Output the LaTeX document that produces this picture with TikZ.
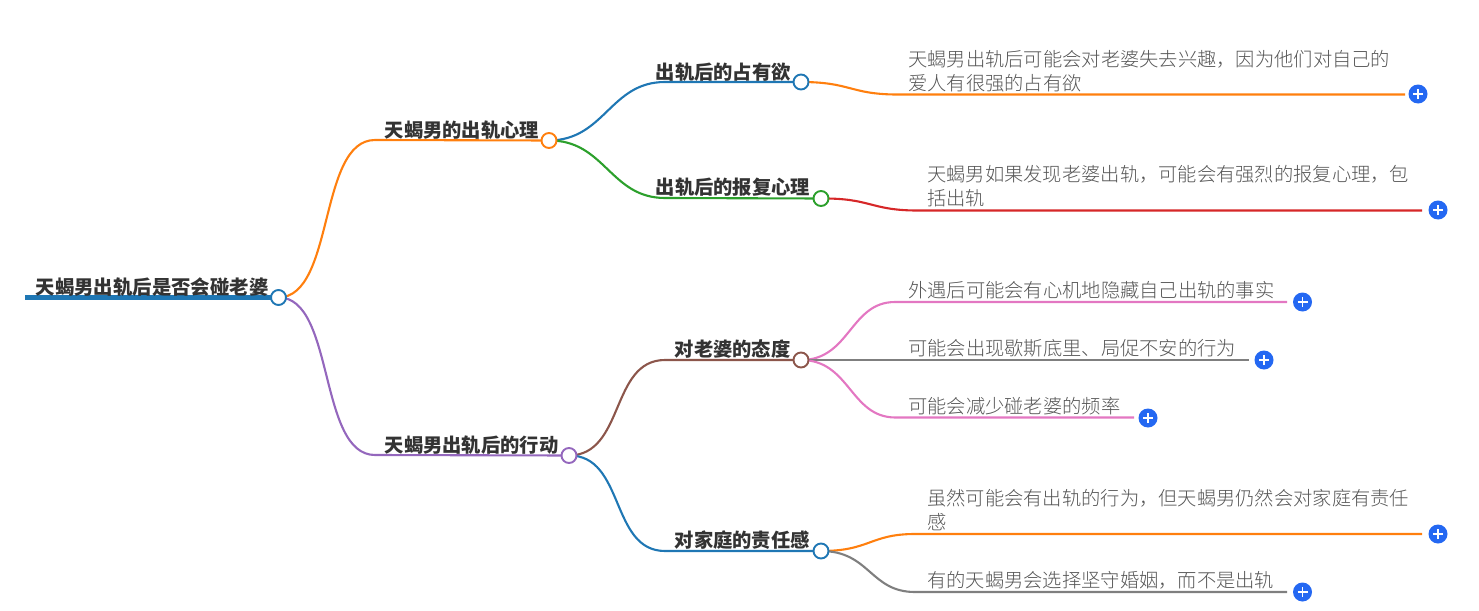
\documentclass[tikz,border=0pt]{standalone}
\usepackage{fontspec}
\setmainfont{Noto Sans CJK SC}
\newfontfamily\cjklight[UprightFont=* Light]{Noto Sans CJK SC}
\definecolor{cblue}{HTML}{1F77B4}
\definecolor{corange}{HTML}{FF7F0E}
\definecolor{cgreen}{HTML}{2CA02C}
\definecolor{cred}{HTML}{D62728}
\definecolor{cpurple}{HTML}{9467BD}
\definecolor{cbrown}{HTML}{8C564B}
\definecolor{cpink}{HTML}{E377C2}
\definecolor{cgray}{HTML}{7F7F7F}
\definecolor{ctext}{HTML}{333333}
\definecolor{cleaf}{HTML}{555555}
\definecolor{cplus}{HTML}{2468F2}
\tikzset{
  x=1pt,y=-1pt,
  edge/.style={line width=2.1pt},
  dot/.style={circle,draw=#1,fill=white,line width=1.9pt,minimum size=15pt,inner sep=0pt},
  head/.style={anchor=base west,inner sep=0pt,text=ctext,font=\fontsize{19.3}{24}\selectfont\bfseries},
  leaf/.style={anchor=north west,inner sep=0pt,text=cleaf,align=left,font=\fontsize{19.28}{24}\selectfont\cjklight},
  plusbtn/.style={circle,fill=cplus,minimum size=19pt,inner sep=0pt},
}
\newcommand{\plusat}[2]{%
  \node[plusbtn] (#1) at #2 {};
  \draw[white,line width=1.2pt] ([xshift=-5pt]#1.center) -- ([xshift=5pt]#1.center);
  \draw[white,line width=1.2pt] ([yshift=-5pt]#1.center) -- ([yshift=5pt]#1.center);
}
\begin{document}
\begin{tikzpicture}
\useasboundingbox (0,0) rectangle (1479,610);
% anchors
\coordinate (rs) at (25,297.5);
\coordinate (k1) at (375,140);
\coordinate (k2) at (375,455);
\coordinate (k11) at (665,82);
\coordinate (k12) at (665,198);
\coordinate (k21) at (665,360);
\coordinate (k22) at (665,551);
\coordinate (e11) at (1405,94.5);
\coordinate (k111) at (895,94.5);
\coordinate (e12) at (1422,210.5);
\coordinate (k121) at (915,210.5);
\coordinate (e211) at (1287,302);
\coordinate (k211) at (895,302);
\coordinate (e212) at (1249,360);
\coordinate (k212) at (895,360);
\coordinate (e213) at (1134,417.5);
\coordinate (k213) at (895,417.5);
\coordinate (e221) at (1422,534);
\coordinate (k221) at (915,534);
\coordinate (e222) at (1287,592);
\coordinate (k222) at (915,592);
% dot positions
\coordinate (p0) at (278.5,297.5);
\coordinate (p1) at (549,140.5);
\coordinate (p2) at (569,455.5);
\coordinate (p11) at (801,82);
\coordinate (p12) at (821,198.5);
\coordinate (p21) at (801,360);
\coordinate (p22) at (821,551);
% connectors
\draw[cblue,line width=4.5pt] (rs) -- (p0);
\draw[edge,corange] (p0) .. controls (335,297) and (318,140) .. (k1) -- (p1);
\draw[edge,cpurple] (p0) .. controls (335,297) and (318,455) .. (k2) -- (p2);
\draw[edge,cblue] (p1) .. controls (605,140) and (610,82) .. (k11) -- (p11);
\draw[edge,cgreen] (p1) .. controls (605,140) and (610,198) .. (k12) -- (p12);
\draw[edge,cbrown] (p2) .. controls (625,455) and (610,360) .. (k21) -- (p21);
\draw[edge,cblue] (p2) .. controls (625,455) and (610,551) .. (k22) -- (p22);
\draw[edge,corange] (p11) .. controls (850,82) and (850,94) .. (k111) -- (e11);
\draw[edge,cred] (p12) .. controls (870,198) and (870,210) .. (k121) -- (e12);
\draw[edge,cpink] (p21) .. controls (850,360) and (850,302) .. (k211) -- (e211);
\draw[edge,cgray] (p21) -- (k212) -- (e212);
\draw[edge,cpink] (p21) .. controls (850,360) and (850,417) .. (k213) -- (e213);
\draw[edge,corange] (p22) .. controls (870,551) and (870,534) .. (k221) -- (e221);
\draw[edge,cgray] (p22) .. controls (870,551) and (870,592) .. (k222) -- (e222);
% dots
\node[dot=cblue] (n0) at (p0) {};
\node[dot=corange] (n1) at (p1) {};
\node[dot=cpurple] (n2) at (p2) {};
\node[dot=cblue] (n11) at (p11) {};
\node[dot=cgreen] (n12) at (p12) {};
\node[dot=cbrown] (n21) at (p21) {};
\node[dot=cblue] (n22) at (p22) {};
% heads
\node[head,font=\fontsize{19.4}{24}\selectfont\bfseries] (t0) at (35.5,294) {天蝎男出轨后是否会碰老婆};
\node[head] (t1) at (384.5,137) {天蝎男的出轨心理};
\node[head] (t2) at (384.5,452) {天蝎男出轨后的行动};
\node[head] (t11) at (655.5,79) {出轨后的占有欲};
\node[head] (t12) at (655.5,194) {出轨后的报复心理};
\node[head] (t21) at (674.5,356) {对老婆的态度};
\node[head] (t22) at (674.5,547) {对家庭的责任感};
% leaves
\node[leaf] (l11) at (908,50.5) {天蝎男出轨后可能会对老婆失去兴趣，因为他们对自己的\\爱人有很强的占有欲};
\node[leaf] (l12) at (927,165.5) {天蝎男如果发现老婆出轨，可能会有强烈的报复心理，包\\括出轨};
\node[leaf] (l211) at (908,281.5) {外遇后可能会有心机地隐藏自己出轨的事实};
\node[leaf] (l212) at (908,339.5) {可能会出现歇斯底里、局促不安的行为};
\node[leaf] (l213) at (908,397.5) {可能会减少碰老婆的频率};
\node[leaf] (l221) at (927,489.5) {虽然可能会有出轨的行为，但天蝎男仍然会对家庭有责任\\感};
\node[leaf] (l222) at (927,571.5) {有的天蝎男会选择坚守婚姻，而不是出轨};
% plus buttons
\plusat{a1}{(1418,94)}
\plusat{a2}{(1438,210)}
\plusat{a3}{(1302.5,302)}
\plusat{a4}{(1264,360)}
\plusat{a5}{(1148,418)}
\plusat{a6}{(1438,534)}
\plusat{a7}{(1302.5,592)}
\end{tikzpicture}
\end{document}
